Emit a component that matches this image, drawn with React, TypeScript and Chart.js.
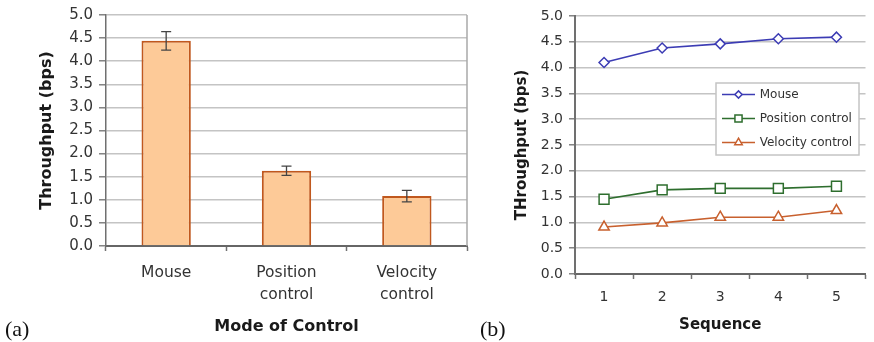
import React, { useEffect, useRef } from "react";
import { Chart, registerables } from "chart.js";
import { drawPoint } from "chart.js/helpers";

Chart.register(...registerables);

// ---- data ----
const modes: (string | string[])[] = ["Mouse", ["Position", "control"], ["Velocity", "control"]];
const modeMeans = [4.44, 1.63, 1.08];
const modeErrors = [0.2, 0.1, 0.125];

const sequences = ["1", "2", "3", "4", "5"];
const mouseSeq = [4.1, 4.38, 4.46, 4.56, 4.59];
const positionSeq = [1.45, 1.63, 1.66, 1.66, 1.7];
const velocitySeq = [0.91, 0.99, 1.1, 1.1, 1.23];

const seriesNames = ["Mouse", "Position control", "Velocity control"];

// ---- styles ----
const FONT = "DejaVu Sans";
const TICK_COLOR = "#333333";
const TITLE_COLOR = "#1a1a1a";
const GRID = "#c4c4c4";
const AXIS = "#707070";
const BAR_FILL = "#fdca98";
const BAR_EDGE = "#c0581e";
const BLUE = "#3c3cb4";
const GREEN = "#2e6e2e";
const ORANGE = "#c8602e";

const errorBarsPlugin = {
  id: "errorBars",
  afterDatasetsDraw(chart: any) {
    const { ctx } = chart;
    const meta = chart.getDatasetMeta(0);
    const y = chart.scales.y;
    ctx.save();
    ctx.strokeStyle = "#444";
    ctx.lineWidth = 1.3;
    meta.data.forEach((bar: any, i: number) => {
      const x = bar.x;
      const top = y.getPixelForValue(modeMeans[i] + modeErrors[i]);
      const bot = y.getPixelForValue(modeMeans[i] - modeErrors[i]);
      ctx.beginPath();
      ctx.moveTo(x, top);
      ctx.lineTo(x, bot);
      ctx.moveTo(x - 5, top);
      ctx.lineTo(x + 5, top);
      ctx.moveTo(x - 5, bot);
      ctx.lineTo(x + 5, bot);
      ctx.stroke();
    });
    ctx.restore();
  },
};

const rightFramePlugin = {
  id: "rightFrame",
  beforeDatasetsDraw(chart: any) {
    const { ctx, chartArea } = chart;
    ctx.save();
    ctx.strokeStyle = "#a8a8a8";
    ctx.lineWidth = 1.5;
    ctx.beginPath();
    ctx.moveTo(chartArea.right, chartArea.top);
    ctx.lineTo(chartArea.right, chartArea.bottom);
    ctx.stroke();
    ctx.restore();
  },
};

const boxLegendPlugin = {
  id: "boxLegend",
  afterDraw(chart: any) {
    const { ctx, chartArea } = chart;
    const x0 = chartArea.left + 141;
    const y0 = chartArea.top + 67;
    const w = 143;
    const h = 72;
    ctx.save();
    ctx.fillStyle = "#ffffff";
    ctx.fillRect(x0, y0, w, h);
    ctx.strokeStyle = "#c4c4c4";
    ctx.lineWidth = 1.5;
    ctx.strokeRect(x0, y0, w, h);
    chart.data.datasets.forEach((ds: any, i: number) => {
      const yy = y0 + 11.5 + i * 24;
      ctx.strokeStyle = ds.borderColor;
      ctx.lineWidth = 1.5;
      ctx.beginPath();
      ctx.moveTo(x0 + 6, yy);
      ctx.lineTo(x0 + 39, yy);
      ctx.stroke();
      ctx.fillStyle = "#ffffff";
      drawPoint(
        ctx,
        { pointStyle: ds.pointStyle, radius: ds.pointRadius * 0.72, borderWidth: 1.5, rotation: 0 } as any,
        x0 + 22.5,
        yy
      );
      ctx.fillStyle = TICK_COLOR;
      ctx.font = `12px "${FONT}"`;
      ctx.textBaseline = "middle";
      ctx.textAlign = "left";
      ctx.fillText(ds.label, x0 + 43.7, yy);
    });
    ctx.restore();
  },
};

function useChart(ref: React.RefObject<HTMLCanvasElement | null>, makeConfig: () => any) {
  useEffect(() => {
    if (!ref.current) return;
    const chart = new Chart(ref.current, makeConfig());
    return () => chart.destroy();
  }, []);
}

const W_A = 475;
const W_B = 399;
const H = 342;

function barConfig() {
  return {
    type: "bar",
    data: {
      labels: modes,
      datasets: [
        {
          data: modeMeans,
          backgroundColor: BAR_FILL,
          borderColor: BAR_EDGE,
          borderWidth: 2,
          barPercentage: 0.82,
          categoryPercentage: 0.5,
        },
      ],
    },
    options: {
      responsive: false,
      animation: false,
      layout: { padding: { top: 15, right: 8, bottom: 0, left: 0 } },
      plugins: { legend: { display: false }, tooltip: { enabled: false } },
      scales: {
        x: {
          grid: {
            display: true,
            drawOnChartArea: false,
            drawTicks: true,
            tickLength: 5,
            tickColor: AXIS,
            tickWidth: 1.5,
            offset: true,
          },
          border: { color: "#666666", width: 2 },
          ticks: {
            font: { family: FONT, size: 15.5, lineHeight: 22 / 15.5 },
            color: TICK_COLOR,
            padding: 11,
            maxRotation: 0,
            autoSkip: false,
          },
          title: {
            display: true,
            text: "Mode of Control",
            font: { family: FONT, size: 16, weight: "bold", lineHeight: 1.2 },
            color: TITLE_COLOR,
            padding: { top: 0, bottom: 5.4 },
          },
          afterFit: (s: any) => {
            s.height = H - 246;
          },
        },
        y: {
          min: 0,
          max: 5,
          ticks: {
            stepSize: 0.5,
            callback: (v: any) => Number(v).toFixed(1),
            font: { family: FONT, size: 15 },
            color: TICK_COLOR,
            padding: 6,
          },
          grid: { color: GRID, lineWidth: 1.6, tickLength: 7, tickColor: AXIS, tickWidth: 1.3 },
          border: { color: AXIS, width: 1.5 },
          title: {
            display: true,
            text: "Throughput (bps)",
            font: { family: FONT, size: 16, weight: "bold", lineHeight: 1.2 },
            color: TITLE_COLOR,
            padding: { top: 37.4, bottom: 0 },
          },
          afterFit: (s: any) => {
            s.width = 106;
          },
        },
      },
    },
    plugins: [rightFramePlugin, errorBarsPlugin],
  };
}

function lineConfig() {
  const mk = (label: string, data: number[], color: string, pointStyle: string, pointRadius: number) => ({
    label,
    data,
    borderColor: color,
    backgroundColor: "#ffffff",
    pointBackgroundColor: "#ffffff",
    pointBorderColor: color,
    pointStyle,
    pointRadius,
    pointBorderWidth: 1.5,
    borderWidth: 1.6,
    tension: 0,
  });
  return {
    type: "line",
    data: {
      labels: sequences,
      datasets: [
        mk(seriesNames[0], mouseSeq, BLUE, "rectRot", 5),
        mk(seriesNames[1], positionSeq, GREEN, "rect", 7),
        mk(seriesNames[2], velocitySeq, ORANGE, "triangle", 6),
      ],
    },
    options: {
      responsive: false,
      animation: false,
      layout: { padding: { top: 16, right: 2, bottom: 0, left: 0 } },
      plugins: { legend: { display: false }, tooltip: { enabled: false } },
      scales: {
        x: {
          offset: true,
          grid: {
            display: true,
            drawOnChartArea: false,
            drawTicks: true,
            tickLength: 5,
            tickColor: AXIS,
            tickWidth: 1.5,
            offset: true,
          },
          border: { color: "#666666", width: 2 },
          ticks: {
            font: { family: FONT, size: 14, lineHeight: 1.2 },
            color: TICK_COLOR,
            padding: 9.6,
            maxRotation: 0,
          },
          title: {
            display: true,
            text: "Sequence",
            font: { family: FONT, size: 15, weight: "bold", lineHeight: 1.2 },
            color: TITLE_COLOR,
            padding: { top: 0, bottom: 8 },
          },
          afterFit: (s: any) => {
            s.height = H - 274;
          },
        },
        y: {
          min: 0,
          max: 5,
          ticks: {
            stepSize: 0.5,
            callback: (v: any) => Number(v).toFixed(1),
            font: { family: FONT, size: 14 },
            color: TICK_COLOR,
            padding: 6,
          },
          grid: { color: GRID, lineWidth: 1.6, tickLength: 6, tickColor: AXIS, tickWidth: 1.3 },
          border: { color: AXIS, width: 2 },
          title: {
            display: true,
            text: "THroughput (bps)",
            font: { family: FONT, size: 15, weight: "bold", lineHeight: 1.2 },
            color: TITLE_COLOR,
            padding: { top: 37.7, bottom: 0 },
          },
          afterFit: (s: any) => {
            s.width = 100;
          },
        },
      },
    },
    plugins: [boxLegendPlugin],
  };
}

const panelLabel: React.CSSProperties = {
  position: "absolute",
  fontFamily: '"Liberation Serif", serif',
  fontSize: "22px",
  lineHeight: "22px",
  color: "#111",
  top: 318,
};

export default function App() {
  const refA = useRef<HTMLCanvasElement>(null);
  const refB = useRef<HTMLCanvasElement>(null);
  useChart(refA, barConfig);
  useChart(refB, lineConfig);
  return (
    <div
      style={{
        position: "fixed",
        left: 0,
        top: 0,
        width: 874,
        height: H,
        background: "#ffffff",
        overflow: "hidden",
      }}
    >
      <canvas
        ref={refA}
        width={W_A}
        height={H}
        style={{ position: "absolute", left: 0, top: 0, width: W_A, height: H }}
      />
      <canvas
        ref={refB}
        width={W_B}
        height={H}
        style={{ position: "absolute", left: W_A, top: 0, width: W_B, height: H }}
      />
      <span style={{ ...panelLabel, left: 5 }}>(a)</span>
      <span style={{ ...panelLabel, left: 480 }}>(b)</span>
    </div>
  );
}
